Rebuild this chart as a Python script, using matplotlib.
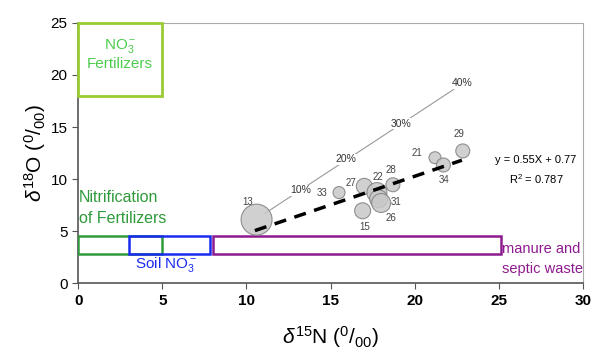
import numpy as np
import matplotlib.pyplot as plt
from matplotlib.patches import Rectangle

plt.rcParams['font.family'] = ['Liberation Sans', 'DejaVu Sans']
plt.rcParams['mathtext.fontset'] = 'custom'
plt.rcParams['mathtext.rm'] = 'Liberation Sans'
plt.rcParams['mathtext.it'] = 'Liberation Sans:italic'

# samples: d15N, d18O, bubble radius (px), label offsets
sample_ids = ['13', '33', '27', '22', '31', '26', '15', '28', '21', '34', '29']
d15n = [10.6, 15.5, 17.0, 17.75, 17.85, 18.0, 16.9, 18.7, 21.2, 21.7, 22.85]
d18o = [6.1, 8.7, 9.3, 8.7, 8.1, 7.7, 6.95, 9.45, 12.05, 11.35, 12.7]
radius = [15.5, 6, 8, 10, 9, 9.5, 8, 7, 6, 7, 7]
label_dx = [-0.55, -1.0, -0.8, 0.05, 1.05, 0.6, 0.1, -0.1, -1.1, 0.05, -0.2]
label_dy = [1.7, 0.0, 0.35, 1.5, -0.3, -1.4, -1.55, 1.45, 0.45, -1.4, 1.6]

# regression line (drawn)
fit_slope, fit_int = 0.55, -0.73
fit_x = [10.5, 22.8]

# mixing line with percentages
mix_x = [11.1, 22.3]
mix_y = [6.7, 18.6]
pct_labels = ['10%', '20%', '30%', '40%']
pct_x = [13.2, 15.9, 19.2, 22.8]
pct_y = [8.9, 11.9, 15.3, 19.2]

fig = plt.figure(figsize=(5.92, 3.53), dpi=100)
ax = fig.add_axes([0.132, 0.198, 0.853, 0.737])

# source boxes
ax.add_patch(Rectangle((0, 18), 5, 7, fill=False, ec='#99cc33', lw=2, zorder=3, clip_on=False))
ax.add_patch(Rectangle((0, 2.8), 5, 1.7, fill=False, ec='#2e9a3a', lw=1.8, zorder=3))
ax.add_patch(Rectangle((3, 2.8), 4.85, 1.7, fill=False, ec='#1a2bf0', lw=1.8, zorder=3))
ax.add_patch(Rectangle((8, 2.8), 17.1, 1.7, fill=False, ec='#8e1b8e', lw=1.8, zorder=3))

ax.text(2.5, 22.0, 'NO$_3^-$\nFertilizers', color='#4dcc4d', ha='center', va='center',
        fontsize=11, linespacing=1.2)
ax.text(0.05, 7.2, 'Nitrification\nof Fertilizers', color='#2e9a3a', ha='left', va='center',
        fontsize=11.5, linespacing=1.45)
ax.text(3.4, 1.8, 'Soil NO$_3^-$', color='#1a2bf0', ha='left', va='center', fontsize=11)
ax.text(25.2, 2.3, 'manure and\nseptic waste', color='#8e1b8e', ha='left', va='center',
        fontsize=10.5, linespacing=1.5)

# mixing line
ax.plot(mix_x, mix_y, color='#999999', lw=0.8, zorder=2)
for t, x, y in zip(pct_labels, pct_x, pct_y):
    ax.text(x, y, t, fontsize=7.5, ha='center', va='center', color='#333333', zorder=4,
            bbox=dict(fc='white', ec='none', pad=0.3))

# bubbles
sizes = [(2 * r * 0.72) ** 2 for r in radius]
ax.scatter(d15n, d18o, s=sizes, c='#c8c8c8', edgecolors='#808080', linewidths=0.8,
           alpha=0.85, zorder=5)
for t, x, y, dx, dy in zip(sample_ids, d15n, d18o, label_dx, label_dy):
    ax.text(x + dx, y + dy, t, fontsize=7, ha='center', va='center', color='#444444', zorder=6)

# regression line
fx = np.array(fit_x)
ax.plot(fx, fit_slope * fx + fit_int, color='black', lw=2.5, ls=(0, (3.5, 2.5)), zorder=7)
ax.text(27.2, 10.8, 'y = 0.55X + 0.77\nR$^2$ = 0.787', fontsize=8, ha='center', va='center',
        linespacing=1.6)

ax.set_xlim(0, 30)
ax.set_ylim(0, 25)
ax.set_xticks([0, 5, 10, 15, 20, 25, 30])
ax.set_yticks([0, 5, 10, 15, 20, 25])
ax.tick_params(labelsize=11, length=4, color='#555555')
for lbl in ax.get_xticklabels():
    lbl.set_fontweight('bold')
for s in ['top', 'right']:
    ax.spines[s].set_color('#aaaaaa')
for s in ['left', 'bottom']:
    ax.spines[s].set_color('#555555')
    ax.spines[s].set_linewidth(1.2)

ax.set_xlabel('$\\mathit{\\delta}^{15}$N ($^0/_{00}$)', fontsize=15, labelpad=12)
ax.set_ylabel('$\\mathit{\\delta}^{18}$O ($^0/_{00}$)', fontsize=15, labelpad=2)

fig.savefig('out.png', dpi=100)
